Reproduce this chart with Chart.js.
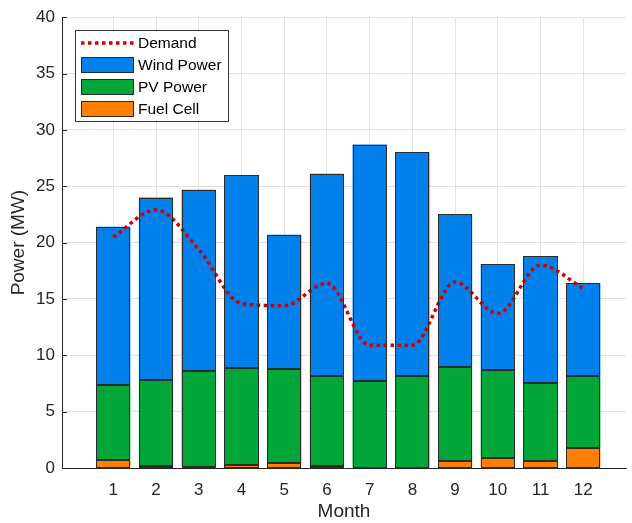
<!DOCTYPE html>
<html>
<head>
<meta charset="utf-8">
<script src="https://cdn.jsdelivr.net/npm/chart.js@4.4.1/dist/chart.umd.min.js"></script>
<style>
html, body { margin: 0; padding: 0; background: #fff; }
</style>
</head>
<body>
<canvas id="power" width="632" height="523"></canvas>
<script>
// valores (MW)
const months = [1, 2, 3, 4, 5, 6, 7, 8, 9, 10, 11, 12];
const fuel_cell = [0.75, 0.2, 0.1, 0.3, 0.45, 0.2, 0, 0, 0.65, 0.85, 0.65, 1.75];
const pv_power = [6.65, 7.65, 8.5, 8.6, 8.35, 7.95, 7.7, 8.2, 8.35, 7.85, 6.9, 6.4];
const wind_power = [14.0, 16.15, 16.1, 17.1, 11.9, 17.95, 21.0, 19.8, 13.5, 9.4, 11.25, 8.25];
const demand = [20.5, 22.9, 19.4, 14.6, 14.4, 16.4, 10.9, 10.9, 16.5, 13.7, 18.0, 15.95];
const y_ticks = [0, 5, 10, 15, 20, 25, 30, 35, 40];

const font_family = "'Liberation Sans', Arial, Helvetica, sans-serif";
const text_color = '#262626';
const grid_color = '#e2e2e2';
const edge_color = '#2b2b2b';

const toPoints = (values) => values.map((v, i) => ({ x: months[i], y: v }));

// borde nitido de cada segmento (usa las barras ya calculadas por chart.js)
const barEdges = {
    id: 'barEdges',
    afterDatasetsDraw(chart) {
        const ctx = chart.ctx;
        ctx.save();
        ctx.strokeStyle = edge_color;
        ctx.lineWidth = 1;
        chart.data.datasets.forEach((ds, i) => {
            if (ds.type === 'line') return;
            chart.getDatasetMeta(i).data.forEach(el => {
                const { x, y, base, width } = el.getProps(['x', 'y', 'base', 'width'], true);
                if (Math.abs(base - y) < 0.5) return;
                const l = Math.round(x - width / 2) + 0.5;
                const r = Math.round(x + width / 2) - 0.5;
                const t = Math.round(Math.min(y, base)) + 0.5;
                const b = Math.round(Math.max(y, base)) - 0.5;
                ctx.strokeRect(l, t, r - l, Math.max(b - t, 0));
            });
        });
        ctx.restore();
    }
};

// ticks hacia adentro como en matlab
const insideTicks = {
    id: 'insideTicks',
    afterDraw(chart) {
        const ctx = chart.ctx;
        const y = chart.scales.y;
        const area = chart.chartArea;
        ctx.save();
        ctx.strokeStyle = text_color;
        ctx.lineWidth = 1;
        ctx.beginPath();
        y_ticks.forEach(t => {
            const py = Math.round(y.getPixelForValue(t)) + 0.5;
            ctx.moveTo(area.left, py);
            ctx.lineTo(area.left + 5, py);
        });
        ctx.stroke();
        ctx.restore();
    }
};

// leyenda dentro del area del grafico
const legendBox = {
    id: 'legendBox',
    afterDraw(chart) {
        const ctx = chart.ctx;
        const bx = 75.5, by = 30.5, bw = 153, bh = 91;
        ctx.save();
        ctx.fillStyle = '#ffffff';
        ctx.fillRect(bx, by, bw, bh);
        ctx.strokeStyle = '#333333';
        ctx.lineWidth = 1;
        ctx.strokeRect(bx, by, bw, bh);
        const order = [3, 2, 1, 0];
        ctx.font = '15.5px ' + font_family;
        ctx.textBaseline = 'middle';
        ctx.textAlign = 'left';
        order.forEach((idx, row) => {
            const ds = chart.data.datasets[idx];
            const cy = 43 + row * 22;
            if (ds.type === 'line') {
                ctx.strokeStyle = ds.borderColor;
                ctx.lineWidth = ds.borderWidth;
                ctx.setLineDash(ds.borderDash);
                ctx.beginPath();
                ctx.moveTo(81, cy);
                ctx.lineTo(134, cy);
                ctx.stroke();
                ctx.setLineDash([]);
            } else {
                ctx.fillStyle = ds.backgroundColor;
                ctx.fillRect(81.5, cy - 7.5, 52, 15);
                ctx.strokeStyle = edge_color;
                ctx.lineWidth = 1;
                ctx.strokeRect(81.5, cy - 7.5, 52, 15);
            }
            ctx.fillStyle = '#000000';
            ctx.fillText(ds.label, 138, cy + 0.5);
        });
        ctx.restore();
    }
};

const power = document.getElementById('power').getContext('2d');

const barStyle = {
    borderWidth: 0,
    inflateAmount: 0,
    barPercentage: 0.8,
    categoryPercentage: 1.0,
    order: 1
};

new Chart(power, {
    type: 'bar',
    data: {
        datasets: [{
            ...barStyle,
            label: 'Fuel Cell',
            data: toPoints(fuel_cell),
            backgroundColor: '#ff8000'
        }, {
            ...barStyle,
            label: 'PV Power',
            data: toPoints(pv_power),
            backgroundColor: '#00a638'
        }, {
            ...barStyle,
            label: 'Wind Power',
            data: toPoints(wind_power),
            backgroundColor: '#0080ea'
        }, {
            type: 'line',
            label: 'Demand',
            data: toPoints(demand),
            stack: 'demand',
            borderColor: '#d10000',
            borderWidth: 3.5,
            borderDash: [3.5, 3.5],
            borderCapStyle: 'butt',
            cubicInterpolationMode: 'monotone',
            pointRadius: 0,
            fill: false,
            order: 0
        }]
    },
    options: {
        responsive: false,
        animation: false,
        layout: {
            padding: { top: 17, right: 6, left: 0, bottom: 0 }
        },
        scales: {
            x: {
                type: 'linear',
                stacked: true,
                offset: false,
                min: -0.2,
                max: 13,
                afterBuildTicks: (scale) => {
                    scale.ticks = months.map(m => ({ value: m }));
                },
                afterFit: (scale) => { scale.height = 55; },
                border: { display: true, color: text_color, width: 1 },
                grid: { color: grid_color, drawTicks: false, offset: false },
                ticks: {
                    padding: 12,
                    color: text_color,
                    font: { family: font_family, size: 17 }
                },
                title: {
                    display: true,
                    text: 'Month',
                    color: text_color,
                    padding: { top: 0, bottom: 0 },
                    font: { family: font_family, size: 19 }
                }
            },
            y: {
                stacked: true,
                min: 0,
                max: 40,
                afterBuildTicks: (scale) => {
                    scale.ticks = y_ticks.map(v => ({ value: v }));
                },
                afterFit: (scale) => { scale.width = 62; },
                border: { display: true, color: text_color, width: 1 },
                grid: { color: grid_color, drawTicks: false },
                ticks: {
                    padding: 7,
                    color: text_color,
                    font: { family: font_family, size: 17 }
                },
                title: {
                    display: true,
                    text: 'Power (MW)',
                    color: text_color,
                    padding: { top: 7, bottom: 0 },
                    font: { family: font_family, size: 19 }
                }
            }
        },
        plugins: {
            legend: {
                display: false // la leyenda se dibuja aparte
            },
            tooltip: { enabled: false }
        }
    },
    plugins: [barEdges, insideTicks, legendBox]
});
</script>
</body>
</html>
